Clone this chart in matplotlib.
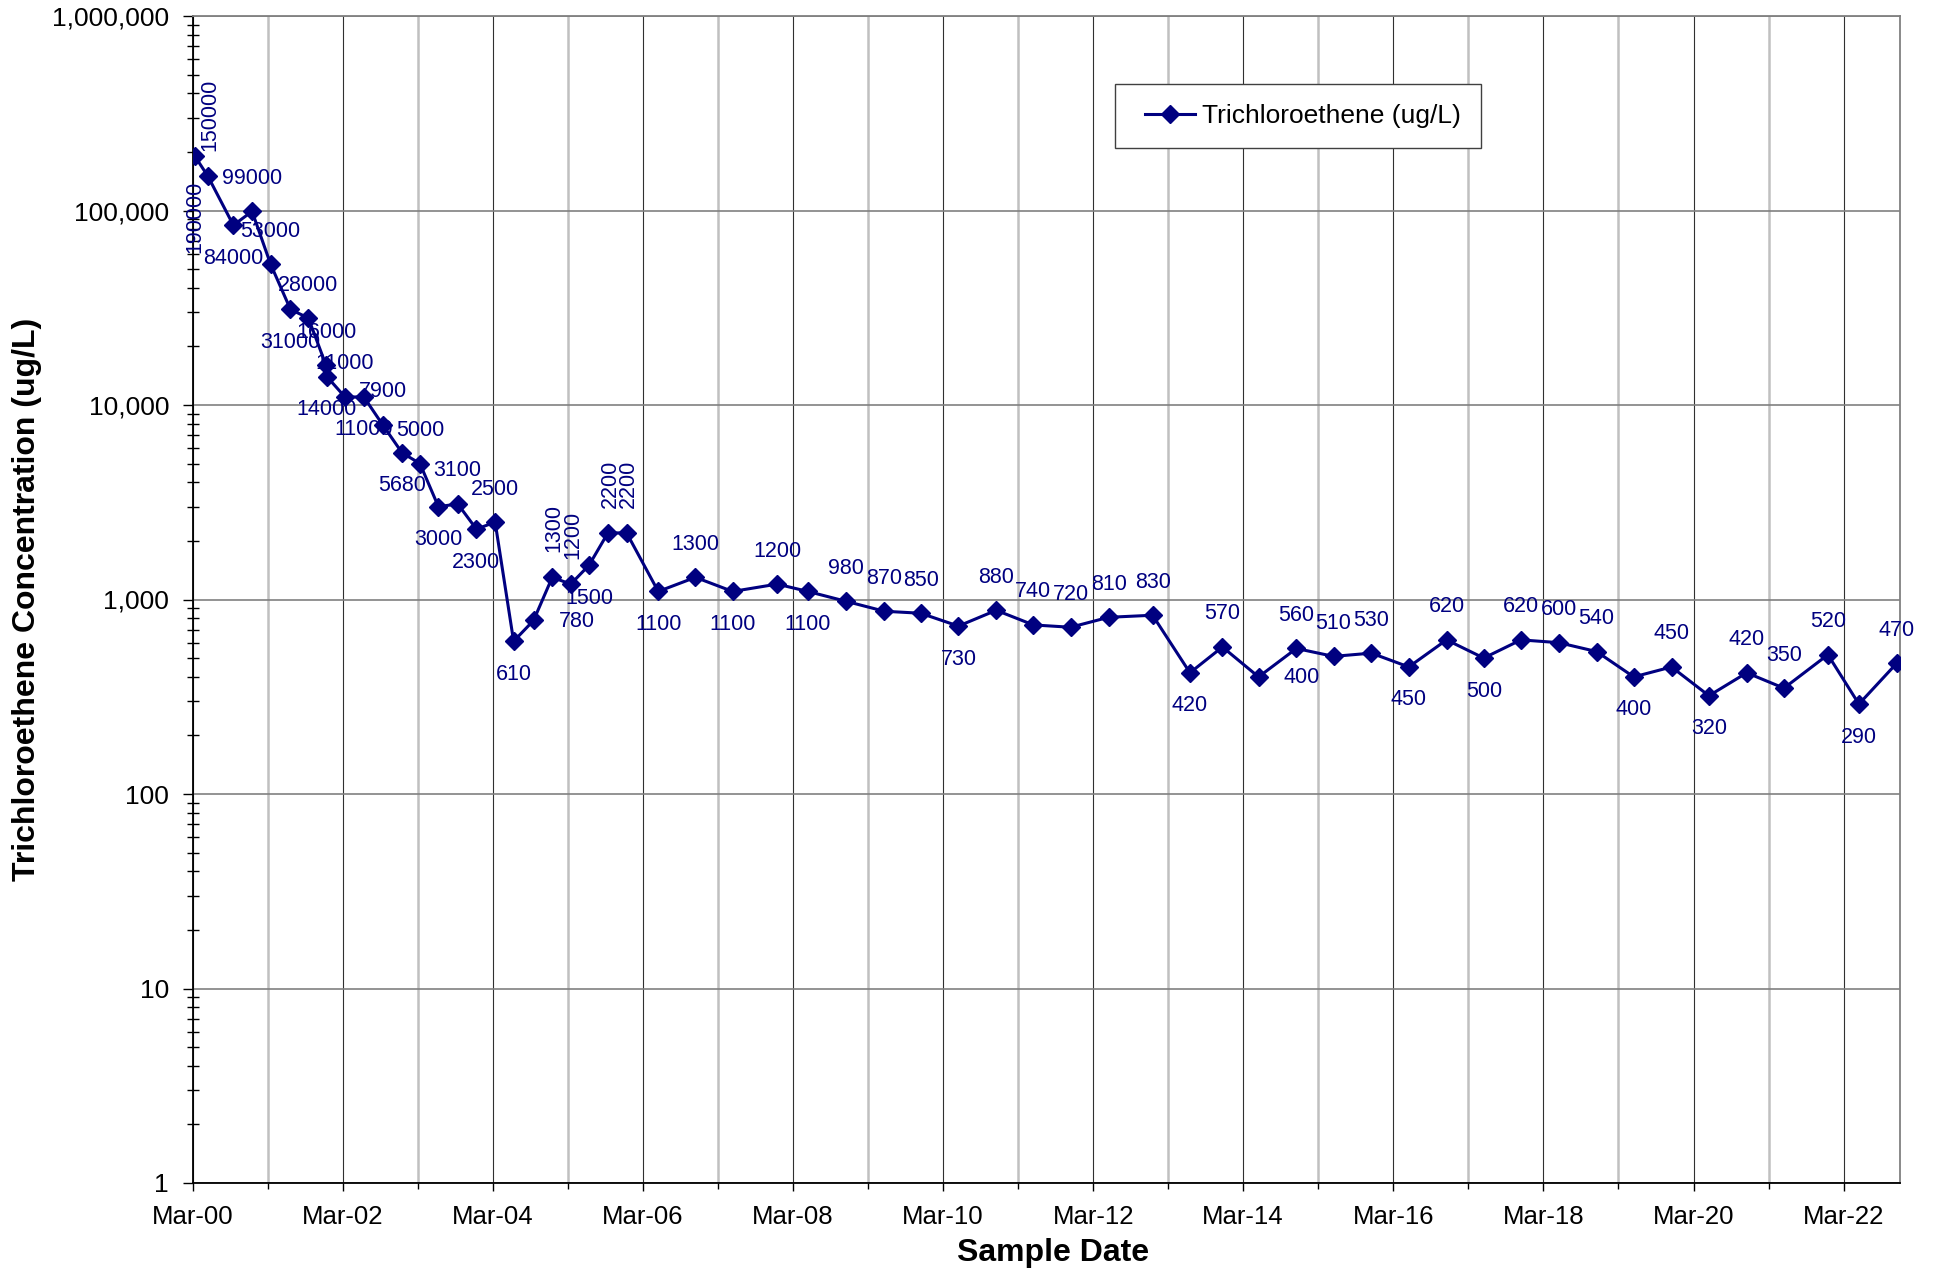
import matplotlib
matplotlib.use("Agg")
import matplotlib.pyplot as plt
import matplotlib.dates as mdates
from matplotlib.lines import Line2D
from matplotlib.legend_handler import HandlerLine2D
from matplotlib.ticker import LogLocator, FuncFormatter, NullFormatter
import pandas as pd

plt.rcParams["font.family"] = ["Liberation Sans", "DejaVu Sans"]

# sample dates and TCE concentrations (ug/L)
sample_dates = [
    "2000-03-12", "2000-05-14", "2000-09-15", "2000-12-15",
    "2001-03-15", "2001-06-20", "2001-09-15", "2001-12-10", "2001-12-14",
    "2002-03-12", "2002-06-12", "2002-09-12", "2002-12-15",
    "2003-03-12", "2003-06-10", "2003-09-12", "2003-12-12",
    "2004-03-12", "2004-06-10", "2004-09-15", "2004-12-15",
    "2005-03-15", "2005-06-12", "2005-09-12", "2005-12-12",
    "2006-05-15", "2006-11-12", "2007-05-12", "2007-12-15",
    "2008-05-12", "2008-11-12", "2009-05-20", "2009-11-12",
    "2010-05-15", "2010-11-15", "2011-05-15", "2011-11-12",
    "2012-05-15", "2012-12-15", "2013-06-15", "2013-11-20",
    "2014-05-15", "2014-11-15", "2015-05-15", "2015-11-15",
    "2016-05-15", "2016-11-15", "2017-05-15", "2017-11-12",
    "2018-05-15", "2018-11-15", "2019-05-15", "2019-11-15",
    "2020-05-15", "2020-11-15", "2021-05-15", "2021-12-15",
    "2022-05-15", "2022-11-15",
]
tce_values = [
    190000, 150000, 84000, 99000,
    53000, 31000, 28000, 16000, 14000,
    11000, 11000, 7900, 5680,
    5000, 3000, 3100, 2300,
    2500, 610, 780, 1300,
    1200, 1500, 2200, 2200,
    1100, 1300, 1100, 1200,
    1100, 980, 870, 850,
    730, 880, 740, 720,
    810, 830, 420, 570,
    400, 560, 510, 530,
    450, 620, 500, 620,
    600, 540, 400, 450,
    320, 420, 350, 520,
    290, 470,
]

# where each data label sits: a=above, b=below, r=right, va/vb=rotated above/below
label_spots = [
    "vb", "va", "b", "a",
    "a", "b", "a", "a", "b",
    "a", "b", "a", "b",
    "a", "b", "a", "b",
    "a", "b", "r", "va",
    "va", "b", "va", "va",
    "b", "a", "b", "a",
    "b", "a", "a", "a",
    "b", "a", "a", "a",
    "a", "a", "b", "a",
    "r", "a", "a", "a",
    "b", "a", "b", "a",
    "a", "a", "b", "a",
    "b", "a", "a", "a",
    "b", "a",
]

dates = pd.to_datetime(sample_dates)
navy = "#000080"

fig = plt.figure(figsize=(19.36, 12.70), dpi=100)
W, H = 1936, 1270
x0, x1, y0, y1 = 192.7, 1900, 16, 1183
ax = fig.add_axes([x0 / W, 1 - y1 / H, (x1 - x0) / W, (y1 - y0) / H])

ax.plot(dates, tce_values, color=navy, lw=2.2, marker="D", ms=9.5,
        mfc=navy, mec=navy, label="Trichloroethene (ug/L)", zorder=3)

# data labels
for d, v, spot in zip(dates, tce_values, label_spots):
    kw = dict(textcoords="offset pixels", fontsize=15.5, color=navy, zorder=4)
    if spot == "a":
        ax.annotate(str(v), (d, v), xytext=(0, 33), ha="center", va="center", **kw)
    elif spot == "b":
        ax.annotate(str(v), (d, v), xytext=(0, -33), ha="center", va="center", **kw)
    elif spot == "r":
        ax.annotate(str(v), (d, v), xytext=(43, -1), ha="center", va="center", **kw)
    elif spot == "va":
        ax.annotate(str(v), (d, v), xytext=(2, 25), ha="center", va="bottom",
                    rotation=90, **kw)
    else:
        ax.annotate(str(v), (d, v), xytext=(0, -24), ha="center", va="top",
                    rotation=90, **kw)

ax.set_yscale("log")
ax.set_ylim(1, 1e6)
ax.set_xlim(pd.Timestamp("2000-03-01"), pd.Timestamp("2022-12-01"))

ax.yaxis.set_major_locator(LogLocator(base=10, numticks=10))
ax.yaxis.set_minor_locator(LogLocator(base=10, subs=range(2, 10), numticks=100))
ax.yaxis.set_major_formatter(FuncFormatter(lambda v, p: f"{int(round(v)):,}"))
ax.yaxis.set_minor_formatter(NullFormatter())

ax.xaxis.set_major_locator(mdates.YearLocator(2, month=3, day=1))
ax.xaxis.set_minor_locator(mdates.YearLocator(1, month=3, day=1))
ax.xaxis.set_major_formatter(mdates.DateFormatter("%b-%y"))

ax.tick_params(axis="y", which="major", labelsize=19, direction="out",
               length=7, width=1, pad=10)
ax.tick_params(axis="y", which="minor", direction="inout", length=9, width=1)
ax.tick_params(axis="x", which="major", labelsize=18.5, direction="out",
               length=6, width=1, pad=10)
ax.tick_params(axis="x", which="minor", direction="out", length=4, width=1)

# gridlines: decades gray, even years dark, odd years light gray
ax.grid(True, axis="y", which="major", color="#808080", lw=1.2)
ax.grid(True, axis="x", which="major", color="#303030", lw=0.8)
ax.grid(True, axis="x", which="minor", color="#c0c0c0", lw=1.8)
ax.set_axisbelow(True)

for s in ["left", "bottom"]:
    ax.spines[s].set_color("black")
    ax.spines[s].set_linewidth(1.3)
for s in ["top", "right"]:
    ax.spines[s].set_color("#808080")
    ax.spines[s].set_linewidth(1.3)

fig.text(27 / W, 1 - (y0 + y1) / 2 / H, "Trichloroethene Concentration (ug/L)",
         rotation=90, ha="center", va="center", fontsize=23, fontweight="bold")
fig.text(1053 / W, 1 - 1253 / H, "Sample Date",
         ha="center", va="center", fontsize=23, fontweight="bold")

leg = ax.legend(loc="upper left", bbox_to_anchor=(1115 / W, 1 - 84 / H),
                bbox_transform=fig.transFigure, fontsize=19, frameon=True,
                fancybox=False, borderpad=0.75, handlelength=2.3,
                handletextpad=0.25, borderaxespad=0,
                handler_map={Line2D: HandlerLine2D(xpad=0.4)})
leg.get_frame().set_edgecolor("#404040")
leg.get_frame().set_linewidth(1.0)
leg.get_frame().set_alpha(1)

fig.savefig("out.png", dpi=100)
